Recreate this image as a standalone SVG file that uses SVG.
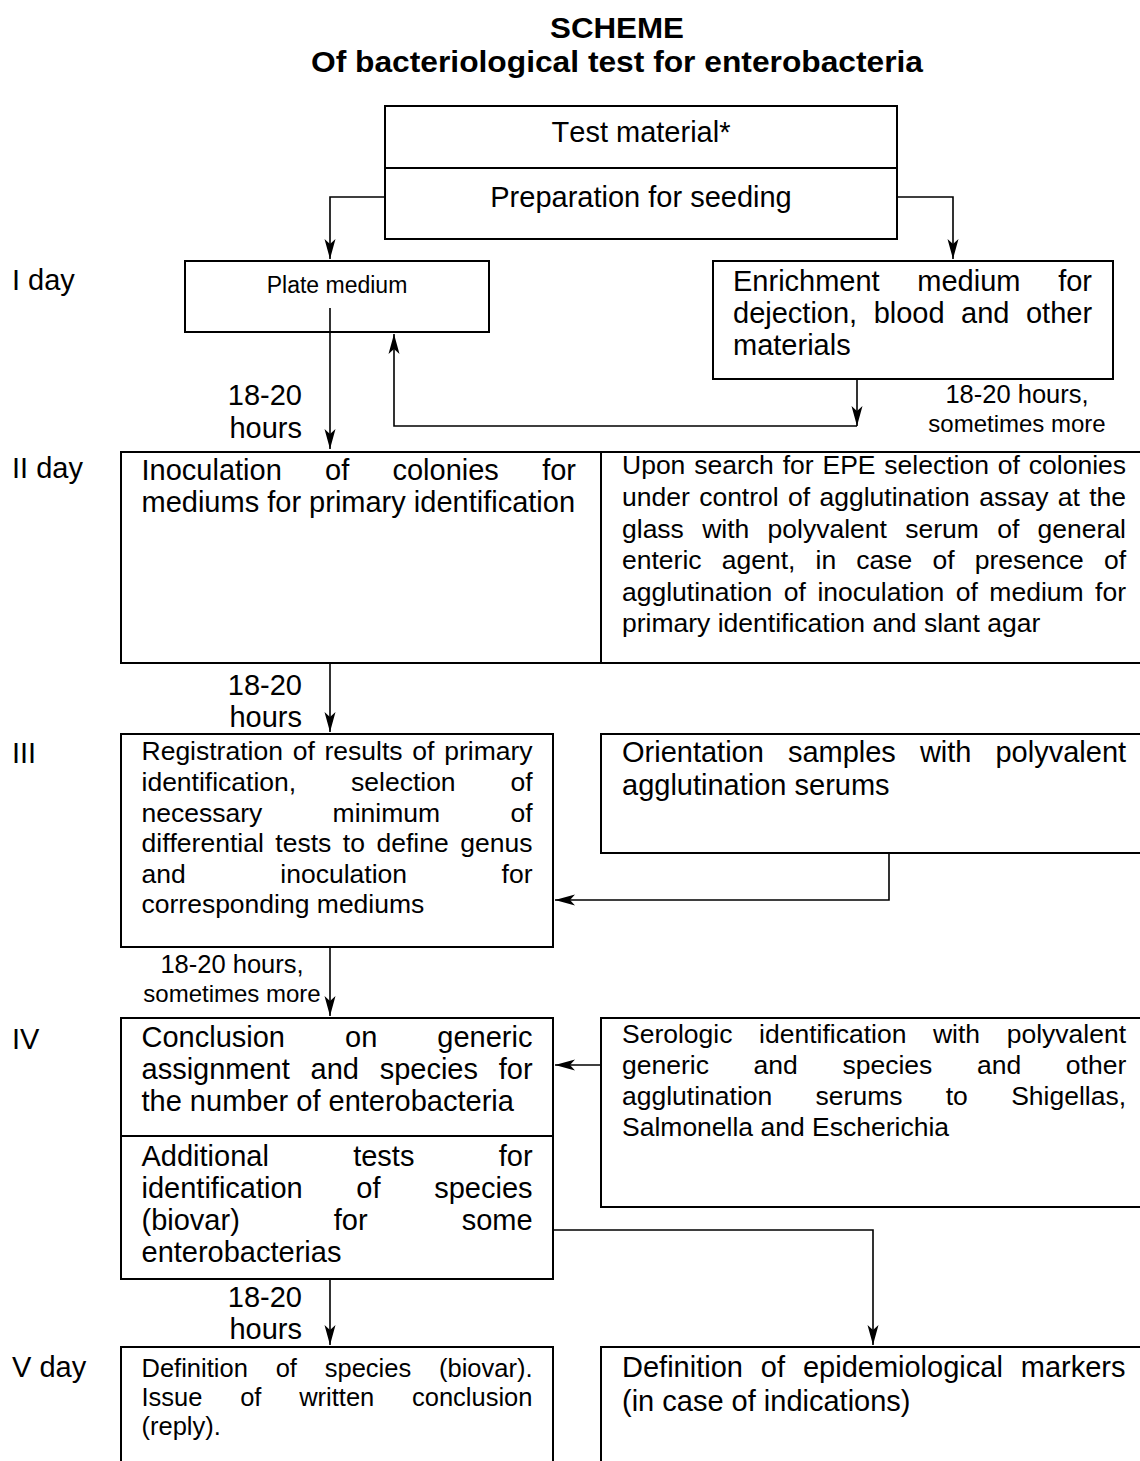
<svg xmlns="http://www.w3.org/2000/svg" width="1140" height="1461" viewBox="0 0 1140 1461">
<style>
text{font-family:"Liberation Sans",Arial,sans-serif;fill:#000;font-kerning:none}
.t29{font-size:29px}
.t265{font-size:26.5px}
.t255{font-size:25.5px}
.title{font-size:29px;font-weight:bold}
.box{fill:none;stroke:#000;stroke-width:2}
.con{fill:none;stroke:#000;stroke-width:1.6}
</style>
<defs>
<marker id="ah" viewBox="-21 -7 22 14" refX="0" refY="0" markerWidth="22" markerHeight="14" orient="auto" markerUnits="userSpaceOnUse">
<path d="M0,0 L-20,-5.5 L-15,0 L-20,5.5 Z" fill="#000"/>
</marker>
</defs>
<rect width="1140" height="1461" fill="#fff"/>

<g id="title">
<text class="title" x="550" y="38" textLength="134" lengthAdjust="spacingAndGlyphs">SCHEME</text>
<text class="title" x="311" y="72" textLength="612" lengthAdjust="spacingAndGlyphs">Of bacteriological test for enterobacteria</text>
</g>

<g id="day-labels">
<text class="t29" x="12" y="290">I day</text>
<text class="t29" x="12" y="478">II day</text>
<text class="t29" x="12" y="763">III</text>
<text class="t29" x="12" y="1049">IV</text>
<text class="t29" x="12" y="1377">V day</text>
</g>

<g id="n-test-material">
<rect class="box" x="385" y="106" width="512" height="133"/>
<line class="box" x1="385" y1="168" x2="897" y2="168"/>
<text class="t29" x="641" y="142" text-anchor="middle">Test material*</text>
<text class="t29" x="641" y="207" text-anchor="middle">Preparation for seeding</text>
</g>

<g id="n-plate-medium">
<rect class="box" x="185" y="261" width="304" height="71"/>
<text x="337" y="293" text-anchor="middle" style="font-size:23px">Plate medium</text>
</g>

<g id="n-enrichment">
<rect class="box" x="713" y="261" width="400" height="118"/>
<text class="t29" x="733" y="291" style="word-spacing:29.6px">Enrichment medium for</text>
<text class="t29" x="733" y="323" style="word-spacing:8.44px">dejection, blood and other</text>
<text class="t29" x="733" y="355">materials</text>
</g>

<g id="n-inoculation">
<rect class="box" x="121" y="452" width="1040" height="211"/>
<line class="box" x1="601" y1="452" x2="601" y2="663"/>
<text class="t29" x="141.5" y="480" style="word-spacing:35.2px">Inoculation of colonies for</text>
<text class="t29" x="141.5" y="512">mediums for primary identification</text>
</g>

<g id="n-epe-selection">
<text class="t265" x="622" y="474" style="word-spacing:1.52px">Upon search for EPE selection of colonies</text>
<text class="t265" x="622" y="506" style="word-spacing:2.0px">under control of agglutination assay at the</text>
<text class="t265" x="622" y="538" style="word-spacing:10.95px">glass with polyvalent serum of general</text>
<text class="t265" x="622" y="569" style="word-spacing:12.8px">enteric agent, in case of presence of</text>
<text class="t265" x="622" y="601" style="word-spacing:4.17px">agglutination of inoculation of medium for</text>
<text class="t265" x="622" y="632">primary identification and slant agar</text>
</g>

<g id="n-registration">
<rect class="box" x="121" y="734" width="432" height="213"/>
<text class="t265" x="141.5" y="760" style="word-spacing:2.4px">Registration of results of primary</text>
<text class="t265" x="141.5" y="791" style="word-spacing:47.48px">identification, selection of</text>
<text class="t265" x="141.5" y="822" style="word-spacing:62.98px">necessary minimum of</text>
<text class="t265" x="141.5" y="852" style="word-spacing:4.2px">differential tests to define genus</text>
<text class="t265" x="141.5" y="883" style="word-spacing:87.23px">and inoculation for</text>
<text class="t265" x="141.5" y="913">corresponding mediums</text>
</g>

<g id="n-orientation">
<rect class="box" x="601" y="734" width="560" height="119"/>
<text class="t29" x="622" y="762" style="word-spacing:15.97px">Orientation samples with polyvalent</text>
<text class="t29" x="622" y="795">agglutination serums</text>
</g>

<g id="n-conclusion">
<rect class="box" x="121" y="1018" width="432" height="261"/>
<line class="box" x1="121" y1="1136" x2="553" y2="1136"/>
<text class="t29" x="141.5" y="1047" style="word-spacing:52.0px">Conclusion on generic</text>
<text class="t29" x="141.5" y="1079" style="word-spacing:12.67px">assignment and species for</text>
<text class="t29" x="141.5" y="1111">the number of enterobacteria</text>
<text class="t29" x="141.5" y="1166" style="word-spacing:76.24px">Additional tests for</text>
<text class="t29" x="141.5" y="1198" style="word-spacing:45.59px">identification of species</text>
<text class="t29" x="141.5" y="1230" style="word-spacing:85.94px">(biovar) for some</text>
<text class="t29" x="141.5" y="1262">enterobacterias</text>
</g>

<g id="n-serologic">
<rect class="box" x="601" y="1018" width="560" height="189"/>
<text class="t265" x="622" y="1043" style="word-spacing:19.23px">Serologic identification with polyvalent</text>
<text class="t265" x="622" y="1074" style="word-spacing:37.3px">generic and species and other</text>
<text class="t265" x="622" y="1105" style="word-spacing:35.93px">agglutination serums to Shigellas,</text>
<text class="t265" x="622" y="1136">Salmonella and Escherichia</text>
</g>

<g id="n-definition-species">
<rect class="box" x="121" y="1347" width="432" height="134"/>
<text class="t255" x="141.5" y="1377" style="word-spacing:20.74px">Definition of species (biovar).</text>
<text class="t255" x="141.5" y="1406" style="word-spacing:30.64px">Issue of written conclusion</text>
<text class="t255" x="141.5" y="1435">(reply).</text>
</g>

<g id="n-epidemiological">
<rect class="box" x="601" y="1347" width="560" height="134"/>
<text class="t29" x="622" y="1377" style="word-spacing:9.87px">Definition of epidemiological markers</text>
<text class="t29" x="622" y="1411">(in case of indications)</text>
</g>

<g id="connectors">
<path class="con" d="M385,197 H330 V259" marker-end="url(#ah)"/>
<path class="con" d="M897,197 H953 V259" marker-end="url(#ah)"/>
<path class="con" d="M330,308 V449" marker-end="url(#ah)"/>
<path class="con" d="M857,379 V426" marker-end="url(#ah)"/>
<path class="con" d="M857,426 H394 V334" marker-end="url(#ah)"/>
<path class="con" d="M330,663 V732" marker-end="url(#ah)"/>
<path class="con" d="M889,853 V900 H555" marker-end="url(#ah)"/>
<path class="con" d="M330,947 V1016" marker-end="url(#ah)"/>
<path class="con" d="M601,1065 H555" marker-end="url(#ah)"/>
<path class="con" d="M553,1230 H873 V1345" marker-end="url(#ah)"/>
<path class="con" d="M330,1279 V1345" marker-end="url(#ah)"/>
</g>

<g id="connector-labels">
<text class="t29" x="302" y="405" text-anchor="end">18-20</text>
<text class="t29" x="302" y="438" text-anchor="end">hours</text>
<text x="1017" y="403" text-anchor="middle" style="font-size:25.5px">18-20 hours,</text>
<text x="1017" y="432" text-anchor="middle" style="font-size:24px">sometimes more</text>
<text class="t29" x="302" y="695" text-anchor="end">18-20</text>
<text class="t29" x="302" y="727" text-anchor="end">hours</text>
<text x="232" y="973" text-anchor="middle" style="font-size:25.5px">18-20 hours,</text>
<text x="232" y="1002" text-anchor="middle" style="font-size:24px">sometimes more</text>
<text class="t29" x="302" y="1307" text-anchor="end">18-20</text>
<text class="t29" x="302" y="1339" text-anchor="end">hours</text>
</g>
</svg>
